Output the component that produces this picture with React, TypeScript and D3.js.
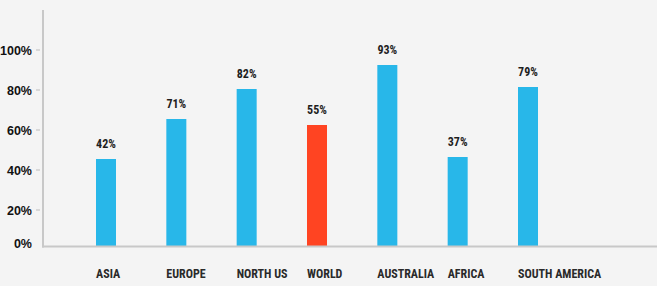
import React from "react";
import * as d3 from "d3";

const categories = ["ASIA", "EUROPE", "NORTH US", "WORLD", "AUSTRALIA", "AFRICA", "SOUTH AMERICA"];
const barValues = [45.5, 65.5, 80.5, 62.5, 92.5, 46.5, 81.5];
const valueLabels = ["42%", "71%", "82%", "55%", "93%", "37%", "79%"];
const highlighted = ["WORLD"];
const yTicks = [0, 20, 40, 60, 80, 100];

const W = 657;
const H = 286;
const FONT = "'Liberation Sans Narrow', 'Roboto Condensed', Roboto, Arial, sans-serif";
const TICK_FONT = "'Liberation Sans', Arial, sans-serif";

export default function App() {
  const x = d3.scalePoint<string>().domain(categories).range([96, 518]);
  const y = d3.scaleLinear().domain([0, 100]).range([250, 50]);
  const axisX = 43;
  const axisY = 246.5;
  const barW = 20;
  return (
    <div style={{ position: "fixed", left: 0, top: 0, width: W, height: H, background: "#f4f4f4" }}>
      <svg width={W} height={H} style={{ display: "block" }}>
        <rect x={0} y={0} width={W} height={H} fill="#f4f4f4" />
        {categories.map((c, i) => {
          const bx = x(c)!;
          const top = y(barValues[i]);
          return (
            <g key={c}>
              <rect x={bx} y={top} width={barW} height={axisY - top} fill={highlighted.includes(c) ? "#ff4422" : "#28b7e9"} />
              <text x={bx + barW / 2} y={top - 11} textAnchor="middle" fontFamily={FONT} fontWeight="bold" fontSize={12} fill="#1e1e1e">
                {valueLabels[i]}
              </text>
              <text x={bx} y={277.5} textAnchor="start" fontFamily={FONT} fontWeight="bold" fontSize={12} fill="#2a2a2a">
                {c}
              </text>
            </g>
          );
        })}
        <line x1={axisX} x2={axisX} y1={10} y2={axisY + 1} stroke="#c8c8c8" strokeWidth={2} />
        <line x1={axisX - 1} x2={W} y1={axisY} y2={axisY} stroke="#c8c8c8" strokeWidth={2} />
        {yTicks.map((t) => {
          const ty = Math.min(y(t), 243);
          return (
            <g key={t}>
              {t > 0 && <line x1={36} x2={40} y1={y(t)} y2={y(t)} stroke="#bbbbbb" strokeWidth={1} />}
              <text x={32} y={ty} dy="0.36em" textAnchor="end" fontFamily={TICK_FONT} fontWeight="bold" fontSize={12.5} fill="#111111">
                {t + "%"}
              </text>
            </g>
          );
        })}
      </svg>
    </div>
  );
}
